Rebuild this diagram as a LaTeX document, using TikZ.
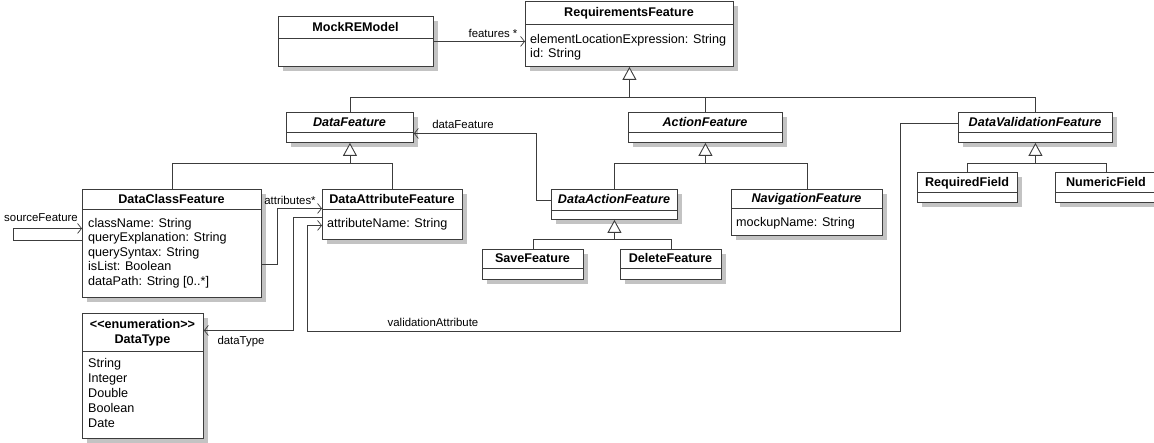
\documentclass[tikz,border=0pt]{standalone}
\usepackage{fontspec}
\setmainfont{Liberation Sans}
\usetikzlibrary{arrows.meta}
\definecolor{linec}{RGB}{60,60,60}
\definecolor{shadowc}{RGB}{195,195,195}
\tikzset{
  cbox/.style={draw=linec, line width=0.9pt, fill=white, inner sep=0pt},
  shd/.style={fill=shadowc},
  ttl/.style={font=\fontsize{12.6}{15}\selectfont\bfseries, inner sep=0pt, text height=9pt, text depth=0pt},
  ittl/.style={ttl, font=\fontsize{12.6}{15}\selectfont\bfseries\itshape},
  attr/.style={font=\fontsize{12.6}{15}\selectfont, inner sep=0pt, text height=9pt, text depth=0pt, anchor=west},
  lbl/.style={font=\fontsize{11.4}{13}\selectfont, inner sep=0pt, text height=8.2pt, text depth=0pt},
  ln/.style={draw=linec, line width=0.9pt},
  gen/.style={ln, -{Triangle[open, length=13pt, width=14pt, fill=white]}},
  nav/.style={ln, -{Straight Barb[length=4pt, width=10pt, line width=0.7pt]}},
}
\newcommand{\ucls}[8]{%
  \fill[shd] ({#2+5},{#3+5}) rectangle ({#4+5},{#5+5});
  \node[cbox, anchor=north west, minimum width={(#4-#2)*1pt}, minimum height={(#5-#3)*1pt}] (#1) at (#2,#3) {};
  \draw[ln] (#2,#6) -- (#4,#6);
  \node[#7] (#1-t) at ({(#2+#4)/2},{(#3+#6)/2}) {#8};
}
\begin{document}
\begin{tikzpicture}[x=1pt,y=-1pt]
\useasboundingbox (0,0) rectangle (1154,443);
% classes
\ucls{mock}{278}{16}{433}{66}{38}{ttl}{MockREModel}
\ucls{req}{525}{1}{733}{66}{24}{ttl}{RequirementsFeature}
\node[attr] (req-a1) at (530,39) {elementLocationExpression: String};
\node[attr] (req-a2) at (530,53.5) {id: String};
\ucls{df}{286}{112}{413}{142}{132}{ittl}{DataFeature}
\ucls{af}{628}{112}{782}{142}{132}{ittl}{ActionFeature}
\ucls{dvf}{958}{112}{1112}{142}{132}{ittl}{DataValidationFeature}
\ucls{dcf}{82}{189}{261}{297}{209}{ttl}{DataClassFeature}
\node[attr] (dcf-a1) at (88,223) {className: String};
\node[attr] (dcf-a2) at (88,237.5) {queryExplanation: String};
\node[attr] (dcf-a3) at (88,252) {querySyntax: String};
\node[attr] (dcf-a4) at (88,266.5) {isList: Boolean};
\node[attr] (dcf-a5) at (88,281) {dataPath: String [0..*]};
\ucls{dattr}{322}{189}{462}{239}{209}{ttl}{DataAttributeFeature}
\node[attr] (dattr-a1) at (327,223) {attributeName: String};
\ucls{dacf}{551}{189}{677}{219}{210}{ittl}{DataActionFeature}
\ucls{nav}{731}{189}{882}{235}{208}{ittl}{NavigationFeature}
\node[attr] (nav-a1) at (736,222) {mockupName: String};
\ucls{save}{482}{249}{583}{279}{268}{ttl}{SaveFeature}
\ucls{del}{620}{249}{721}{279}{268}{ttl}{DeleteFeature}
\ucls{reqf}{917}{172}{1017}{202}{192}{ttl}{RequiredField}
\ucls{numf}{1055}{172}{1157}{202}{192}{ttl}{NumericField}
% enumeration
\fill[shd] (87,318) rectangle (208,443);
\node[cbox, anchor=north west, minimum width=121pt, minimum height=125pt] (dt) at (82,313) {};
\draw[ln] (82,351) -- (203,351);
\node[ttl] (dt-s) at (142.5,324) {<{}<enumeration>{}>};
\node[ttl] (dt-t) at (142.5,339) {DataType};
\node[attr] (dt-1) at (88,363) {String};
\node[attr] (dt-2) at (88,378) {Integer};
\node[attr] (dt-3) at (88,393) {Double};
\node[attr] (dt-4) at (88,408) {Boolean};
\node[attr] (dt-5) at (88,423) {Date};
% generalizations
\path (req.south) ++(0,31) coordinate (jr);
\draw[gen] (jr) -- (req.south);
\draw[ln] (df.north) |- (jr) -| (dvf.north);
\draw[ln] (af.north) -- (af.north |- jr);
\path (df.south) ++(0,21) coordinate (jd);
\draw[gen] (jd) -- (df.south);
\draw[ln] (dcf.north) |- (jd) -| (dattr.north);
\path (af.south) ++(0,21) coordinate (ja);
\draw[gen] (ja) -- (af.south);
\draw[ln] (dacf.north) |- (ja) -| (nav.north);
\path (dvf.south) ++(0,21) coordinate (jv);
\draw[gen] (jv) -- (dvf.south);
\draw[ln] (reqf.north) |- (jv) -| (numf.north);
\path (dacf.south) ++(0,20) coordinate (jda);
\draw[gen] (jda) -- (dacf.south);
\draw[ln] (save.north) |- (jda) -| (del.north);
% associations
\draw[nav] (mock.east) -- (mock.east -| req.west);
\node[lbl] (l-feat) at (493,33) {features *};
\draw[nav] ([yshift=4pt]dacf.west) -| ([xshift=123pt,yshift=-6pt]df.east) -- ([yshift=-6pt]df.east);
\node[lbl] (l-df) at (463,124) {dataFeature};
\draw[nav] ([yshift=3pt]dcf.west) -- ++(-69pt,0pt) |- ([yshift=15pt]dcf.west);
\node[lbl] (l-src) at (41,217) {sourceFeature};
\draw[nav] ([yshift=-21pt]dcf.east) -| ([xshift=-45pt,yshift=6pt]dattr.west) -- ([yshift=6pt]dattr.west);
\node[lbl] (l-attr) at (290,200) {attributes*};
\draw[nav] ([yshift=-3pt]dattr.west) -| ([xshift=90pt,yshift=45.5pt]dt.east) -- ([yshift=45.5pt]dt.east);
\node[lbl] (l-dt) at (241,340) {dataType};
\coordinate (vb) at (900,331);
\draw[nav] ([yshift=4pt]dvf.west) -| (vb) -| ([xshift=-15pt,yshift=-11pt]dattr.west) -- ([yshift=-11pt]dattr.west);
\node[lbl] (l-va) at (433,322) {validationAttribute};
\end{tikzpicture}
\end{document}
